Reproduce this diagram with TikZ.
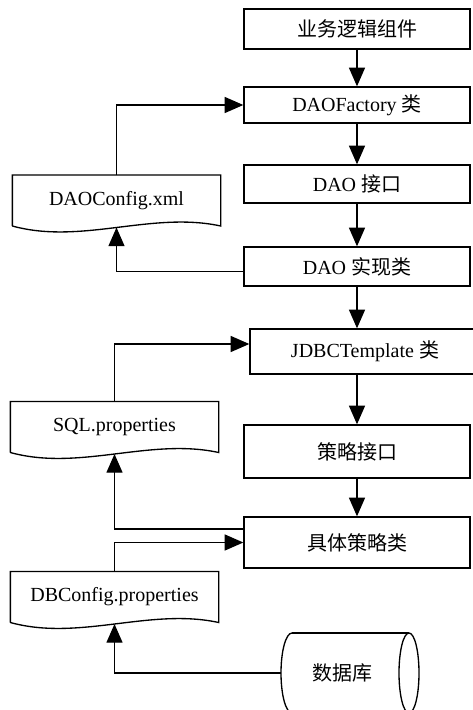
\documentclass[tikz,border=0pt]{standalone}
\usepackage{fontspec}
\setmainfont{Liberation Serif}
\newfontfamily\cjk{Noto Sans CJK SC}
\usetikzlibrary{arrows.meta,calc}
\newcommand\docoutline[1]{\draw (#1.south west) -- (#1.north west) -- (#1.north east) -- (#1.south east) .. controls +(-69,-15) and +(69,19) .. (#1.south west);}
\begin{document}
\begin{tikzpicture}[x=0.75pt,y=-0.75pt,line width=1pt,
  lbl/.style={font=\fontsize{15}{18}\selectfont},
  box/.style={lbl,draw,rectangle,inner sep=0pt,minimum width=169.5pt},
  doc/.style={lbl,rectangle,inner sep=0pt,minimum width=155.25pt,minimum height=37.25pt},
  arr/.style={-{Triangle[length=14pt,width=12pt]}}]
\useasboundingbox (0,0) rectangle (473,710);
% right column
\node[box,minimum height=30pt] (B1) at (357,29) {{\cjk 业务逻辑组件}};
\node[box,minimum height=27pt] (B2) at (357,105) {DAOFactory {\cjk 类}};
\node[box,minimum height=28.5pt] (B3) at (357,184) {DAO {\cjk 接口}};
\node[box,minimum height=29.25pt] (B4) at (357,266.5) {DAO {\cjk 实现类}};
\node[box,minimum height=33.75pt,minimum width=172.5pt] (B5) at (365,351.5) {JDBCTemplate {\cjk 类}};
\node[box,minimum height=39.75pt] (B6) at (357,451.5) {{\cjk 策略接口}};
\node[box,minimum height=38.25pt] (B7) at (357,542.5) {{\cjk 具体策略类}};
% documents
\node[doc] (A) at (116.5,200.5) {DAOConfig.xml};
\node[doc] (S) at (114.5,427) {SQL.properties};
\node[doc] (D) at (114.5,597) {DBConfig.properties};
\docoutline{A}
\docoutline{S}
\docoutline{D}
% database
\node[lbl] (DB) at (342,673) {{\cjk 数据库}};
\coordinate (DBw) at (281,673);
\draw (292,633) -- (409,633);
\draw (292,713) -- (409,713);
\draw (292,633) arc[start angle=90,end angle=270,x radius=8.25pt,y radius=30pt];
\draw (409,673) ellipse[x radius=7.5pt,y radius=30pt];
% vertical flow
\draw[arr] (B1) -- (B2);
\draw[arr] (B2) -- (B3);
\draw[arr] (B3) -- (B4);
\draw[arr] (B4.south) -- (B4.south |- B5.north);
\draw[arr] (B6.north |- B5.south) -- (B6.north);
\draw[arr] (B6) -- (B7);
% side connectors
\draw[arr] (A.north) |- (B2.west);
\draw[arr] ($(B4.west)+(0,5)$) -| ($(A.south)+(0,1.5)$);
\draw[arr] (S.north) |- ($(B5.west)+(0,-7.5)$);
\draw[arr] ($(B7.west)+(0,-13.5)$) -| ($(S.south)+(0,1.5)$);
\draw[arr] (D.north) |- (B7.west);
\draw[arr] (DBw) -| ($(D.south)+(0,1.5)$);
\end{tikzpicture}
\end{document}
